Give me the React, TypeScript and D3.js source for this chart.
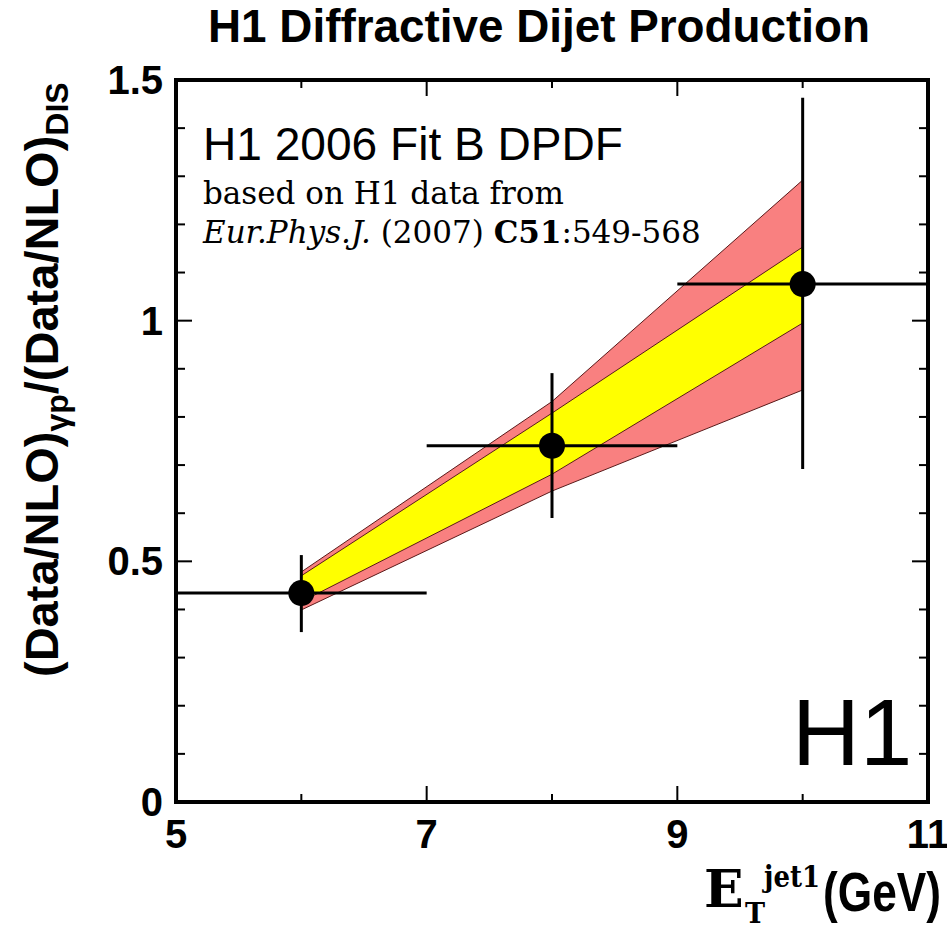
import React from "react";
import * as d3 from "d3";

const etCenters = [6, 8, 10];
const etLow = [5, 7, 9];
const etHigh = [7, 9, 11];
const ratio = [0.434, 0.74, 1.076];
const errUp = [0.079, 0.151, 0.387];
const errDown = [0.081, 0.15, 0.384];

const bandX = [6, 8, 10];
const outerHi = [0.478, 0.832, 1.292];
const innerHi = [0.47, 0.808, 1.153];
const innerLo = [0.416, 0.681, 0.995];
const outerLo = [0.399, 0.646, 0.856];

const xTickLabels = ["5", "7", "9", "11"];
const yTickLabels = ["0", "0.5", "1", "1.5"];

const W = 947;
const H = 926;

export default function App() {
  const x = d3.scaleLinear().domain([5, 11]).range([176, 928]);
  const y = d3.scaleLinear().domain([0, 1.5]).range([802, 80]);

  const area = (hi: number[], lo: number[]) =>
    d3
      .area<number>()
      .x((_, i) => x(bandX[i]))
      .y0((_, i) => y(lo[i]))
      .y1((_, i) => y(hi[i]))(bandX) || "";
  const line = (v: number[]) =>
    d3
      .line<number>()
      .x((_, i) => x(bandX[i]))
      .y((_, i) => y(v[i]))(bandX) || "";

  const yMinor = d3.range(0, 16).map((k) => k / 10);
  const xMinor = d3.range(5, 12);
  const sans = "'Liberation Sans', Arial, Helvetica, sans-serif";
  const serif = "'DejaVu Serif', serif";

  return (
    <svg
      width={W}
      height={H}
      style={{ position: "absolute", left: 0, top: 0, background: "#fff" }}
    >
      <rect x={0} y={0} width={W} height={H} fill="#fff" />
      {/* title */}
      <text
        x={208}
        y={42}
        fontFamily={sans}
        fontWeight="bold"
        fontSize={46}
        textLength={662}
        lengthAdjust="spacingAndGlyphs"
      >
        H1 Diffractive Dijet Production
      </text>

      {/* bands */}
      <path d={area(outerHi, outerLo)} fill="#f98080" />
      <path d={area(innerHi, innerLo)} fill="#ffff00" />
      {[outerHi, innerHi, innerLo, outerLo].map((v, i) => (
        <path key={i} d={line(v)} fill="none" stroke="#5a1a1a" strokeWidth={1} />
      ))}

      {/* data points */}
      {etCenters.map((c, i) => (
        <g key={i}>
          <line
            x1={x(etLow[i])}
            x2={x(etHigh[i])}
            y1={y(ratio[i])}
            y2={y(ratio[i])}
            stroke="#000"
            strokeWidth={3}
          />
          <line
            x1={x(c)}
            x2={x(c)}
            y1={y(ratio[i] + errUp[i])}
            y2={y(ratio[i] - errDown[i])}
            stroke="#000"
            strokeWidth={3}
          />
          <circle cx={x(c)} cy={y(ratio[i])} r={13} fill="#000" />
        </g>
      ))}

      {/* frame */}
      <rect
        x={176}
        y={80}
        width={752}
        height={722}
        fill="none"
        stroke="#000"
        strokeWidth={4}
      />
      {/* y ticks */}
      {yMinor.map((v, i) => {
        const len = Math.abs(v * 2 - Math.round(v * 2)) < 1e-6 ? 16 : 9;
        return (
          <g key={i}>
            <line x1={176} x2={176 + len} y1={y(v)} y2={y(v)} stroke="#000" strokeWidth={2} />
            <line x1={928} x2={928 - len} y1={y(v)} y2={y(v)} stroke="#000" strokeWidth={2} />
          </g>
        );
      })}
      {/* x ticks */}
      {xMinor.map((v, i) => {
        const len = v % 2 === 1 ? 16 : 8;
        return (
          <g key={i}>
            <line x1={x(v)} x2={x(v)} y1={802} y2={802 - len} stroke="#000" strokeWidth={2} />
            <line x1={x(v)} x2={x(v)} y1={80} y2={80 + len} stroke="#000" strokeWidth={2} />
          </g>
        );
      })}

      {/* tick labels */}
      {yTickLabels.map((t, i) => (
        <text
          key={i}
          x={163}
          y={y(+t) + 14}
          textAnchor="end"
          fontFamily={sans}
          fontWeight="bold"
          fontSize={40}
        >
          {t}
        </text>
      ))}
      {xTickLabels.map((t, i) => (
        <text
          key={i}
          x={x(+t)}
          y={848}
          textAnchor="middle"
          fontFamily={sans}
          fontWeight="bold"
          fontSize={40}
        >
          {t}
        </text>
      ))}

      {/* y axis title */}
      <text
        transform="translate(58,677) rotate(-90)"
        fontFamily={sans}
        fontWeight="bold"
        fontSize={47}
      >
        (Data/NLO)
        <tspan fontSize={32} dy={10}>γp</tspan>
        <tspan dy={-10}>/(Data/NLO)</tspan>
        <tspan fontSize={32} dy={10}>DIS</tspan>
      </text>

      {/* x axis title */}
      <text x={704} y={907} fontFamily={serif} fontWeight="bold" fontSize={52}>
        E
      </text>
      <text x={745} y={923} fontFamily={serif} fontWeight="bold" fontSize={27}>
        T
      </text>
      <text
        x={764}
        y={887}
        fontFamily={serif}
        fontWeight="bold"
        fontSize={30}
        textLength={56}
        lengthAdjust="spacingAndGlyphs"
      >
        jet1
      </text>
      <text
        x={823}
        y={911}
        fontFamily={sans}
        fontWeight="bold"
        fontSize={56}
        textLength={118}
        lengthAdjust="spacingAndGlyphs"
      >
        (GeV)
      </text>

      {/* annotations */}
      <text
        x={203}
        y={160}
        fontFamily={sans}
        fontSize={46}
        textLength={420}
        lengthAdjust="spacingAndGlyphs"
      >
        H1 2006 Fit B DPDF
      </text>
      <text x={203} y={204} fontFamily={serif} fontSize={31}>
        based on H1 data from
      </text>
      <text x={203} y={243} fontFamily={serif} fontSize={31}>
        <tspan fontStyle="italic">Eur.Phys.J.</tspan>
        <tspan> (2007) </tspan>
        <tspan fontWeight="bold">C51</tspan>
        <tspan>:549-568</tspan>
      </text>
      <text x={792} y={765} fontFamily={sans} fontSize={94}>
        H1
      </text>
    </svg>
  );
}
